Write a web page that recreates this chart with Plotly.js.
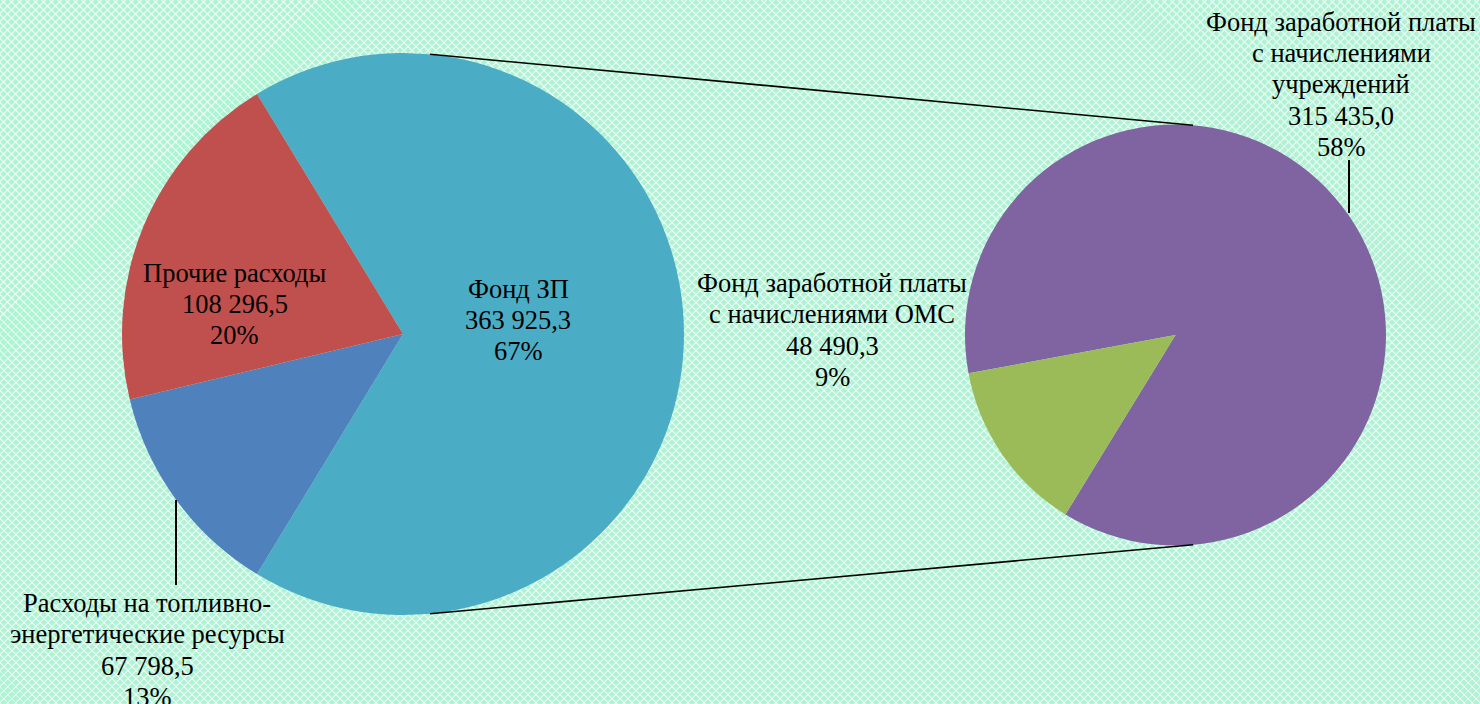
<!DOCTYPE html>
<html>
<head>
<meta charset="utf-8">
<script src="https://cdn.plot.ly/plotly-3.0.1.min.js"></script>
<style>
html,body{margin:0;padding:0;}
body{width:1480px;height:704px;overflow:hidden;background-color:#b0f2d4;
background-image:
 repeating-linear-gradient(45deg, rgba(255,255,255,0.6) 0px, rgba(255,255,255,0.6) 1.4px, rgba(255,255,255,0) 1.4px, rgba(255,255,255,0) 5.66px),
 repeating-linear-gradient(-45deg, rgba(255,255,255,0.6) 0px, rgba(255,255,255,0.6) 1.4px, rgba(255,255,255,0) 1.4px, rgba(255,255,255,0) 5.66px);}
#chart{width:1480px;height:704px;}
</style>
</head>
<body>
<div id="chart"></div>
<script>
// ---- data ----
const mainLabels = ['Фонд ЗП', 'Расходы на топливно-<br>энергетические ресурсы', 'Прочие расходы'];
const mainValues = [363925.3, 67798.5, 108296.5];
const mainColors = ['#4bacc6', '#4f81bd', '#c0504d'];

const subLabels = ['Фонд заработной платы<br>с начислениями<br>учреждений', 'Фонд заработной платы<br>с начислениями ОМС'];
const subValues = [315435.0, 48490.3];
const subColors = ['#8064a2', '#9bbb59'];

// ---- helpers ----
const W = 1480, H = 704;
const total = mainValues.reduce((a, b) => a + b, 0);
function fmt(v) {
  const parts = v.toFixed(1).split('.');
  const intPart = parts[0].replace(/\B(?=(\d{3})+(?!\d))/g, ' ');
  return intPart + ',' + parts[1];
}
function pct(v) { return Math.round(v / total * 100) + '%'; }
function labelLines(name, v) { return name.split('<br>').concat([fmt(v), pct(v)]); }

// pie geometry (pixels)
const pie1 = {cx: 403, cy: 334, r: 281};
const pie2 = {cx: 1175.5, cy: 335, r: 210.5};
function dom(p) {
  return {x: [(p.cx - p.r) / W, (p.cx + p.r) / W], y: [1 - (p.cy + p.r) / H, 1 - (p.cy - p.r) / H]};
}
function pt(p, deg) {
  const a = deg * Math.PI / 180;
  return [(p.cx + p.r * Math.cos(a)) / W, 1 - (p.cy - p.r * Math.sin(a)) / H];
}

const zpShare = mainValues[0] / total;

const traces = [
  {
    type: 'pie', values: mainValues, labels: mainLabels, sort: false, direction: 'clockwise',
    rotation: 90 - zpShare * 180, domain: dom(pie1), textinfo: 'none', hoverinfo: 'label+value',
    marker: {colors: mainColors, line: {width: 0}}
  },
  {
    type: 'pie', values: subValues, labels: subLabels, sort: false, direction: 'clockwise',
    rotation: -100.5, domain: dom(pie2), textinfo: 'none', hoverinfo: 'label+value',
    marker: {colors: subColors, line: {width: 0}}
  }
];

const fontSpec = {family: 'Liberation Serif, Times New Roman, serif', size: 26.5, color: '#000'};
const LINE = 31.3;
function labelBlock(lines, px, py) {
  const n = lines.length;
  return lines.map((t, i) => ({
    text: t, x: px / W, y: 1 - (py + (i - (n - 1) / 2) * LINE) / H, xref: 'paper', yref: 'paper',
    showarrow: false, xanchor: 'center', yanchor: 'middle', align: 'center', font: fontSpec
  }));
}
const annotations = [].concat(
  labelBlock(labelLines(mainLabels[0], mainValues[0]), 518, 320),
  labelBlock(labelLines(mainLabels[1], mainValues[1]), 147, 650),
  labelBlock(labelLines(mainLabels[2], mainValues[2]), 235, 304),
  labelBlock(labelLines(subLabels[0], subValues[0]), 1341, 84.5),
  labelBlock(labelLines(subLabels[1], subValues[1]), 832, 330)
);

const a1t = pt(pie1, 84.5), a2t = pt(pie2, 85.2);
const a1b = pt(pie1, -84.5), a2b = pt(pie2, -85.2);
function seg(p, q, w) {
  return {type: 'line', xref: 'paper', yref: 'paper', x0: p[0], y0: p[1], x1: q[0], y1: q[1],
          line: {color: '#000', width: w}};
}
const shapes = [
  seg(a1t, a2t, 1.6),
  seg(a1b, a2b, 1.6),
  seg([176 / W, 1 - 500 / H], [176 / W, 1 - 585 / H], 2),
  seg([1349 / W, 1 - 160 / H], [1349 / W, 1 - 213 / H], 2)
];

const layout = {
  width: W, height: H,
  margin: {l: 0, r: 0, t: 0, b: 0},
  paper_bgcolor: 'rgba(0,0,0,0)', plot_bgcolor: 'rgba(0,0,0,0)',
  showlegend: false,
  annotations: annotations,
  shapes: shapes
};
Plotly.newPlot('chart', traces, layout, {displayModeBar: false, staticPlot: true});
</script>
</body>
</html>
